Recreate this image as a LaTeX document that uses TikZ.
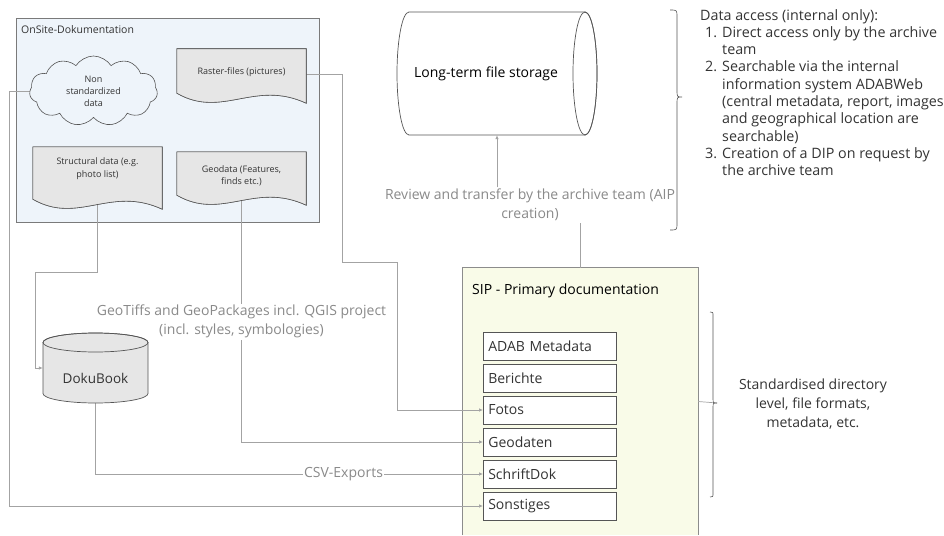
\documentclass[tikz,border=0pt]{standalone}
\usepackage{fontspec}
\setmainfont{Open Sans}
\usetikzlibrary{shapes.symbols,arrows.meta,calc}
\pgfdeclarelayer{bg}
\pgfdeclarelayer{conn}
\pgfsetlayers{bg,conn,main}
\definecolor{osfill}{HTML}{EEF4FA}
\definecolor{osline}{HTML}{7A7A7A}
\definecolor{docfill}{HTML}{E6E6E6}
\definecolor{shline}{HTML}{555555}
\definecolor{connc}{HTML}{A3A3A3}
\definecolor{lblc}{HTML}{8A8A8A}
\definecolor{sipfill}{HTML}{F9FBE8}
\definecolor{sipline}{HTML}{8C8C8C}
\definecolor{txt}{HTML}{333333}
\newcommand\docpath[1]{(#1.north west) -- (#1.north east) -- ($(#1.south east)+(0,4)$) .. controls ($(#1.south west)!0.6!(#1.south east)+(0,-20)$) and ($(#1.south west)!0.35!(#1.south east)+(0,20)$) .. ($(#1.south west)+(0,-6)$) -- cycle}
\newcommand\itm[1]{\hspace*{5pt}\makebox[17pt][l]{#1}}
\newcommand\cnt{\hspace*{22pt}}
\begin{document}
\begin{tikzpicture}[x=1pt,y=-1pt,
  onsite/.style={fill=osfill,draw=osline,line width=0.6pt,minimum width=303,minimum height=204,inner sep=0},
  sipbox/.style={fill=sipfill,minimum width=235,minimum height=267,inner sep=0},
  sipedge/.style={draw=sipline,line width=0.7pt},
  smalltitle/.style={font=\fontsize{10.5}{12}\selectfont,text=txt,inner sep=0},
  cloudn/.style={cloud,cloud puffs=11,cloud puff arc=115,aspect=1.8,cloud ignores aspect,fill=osfill,draw=shline,line width=0.6pt,minimum width=128,minimum height=70,inner sep=0,align=center,font=\fontsize{9}{12}\selectfont,text=txt},
  docn/.style={minimum width=129,inner sep=0,align=center,font=\fontsize{9}{12.5}\selectfont,text=txt},
  docsty/.style={fill=docfill,draw=shline,line width=0.6pt},
  arr/.style={draw=connc,line width=0.7pt,-{Latex[length=4pt,width=3.5pt]}},
  ln/.style={draw=connc,line width=0.7pt},
  lbl/.style={fill=white,text=lblc,align=center,inner sep=1.5pt,font=\fontsize{14}{19}\selectfont},
  dirbox/.style={draw=shline,fill=white,line width=0.6pt,anchor=west,minimum height=28,text width=123,inner xsep=5,align=left,font=\fontsize{14}{16}\selectfont,text=txt},
  cylsty/.style={draw=shline,line width=0.7pt},
  bigtext/.style={font=\fontsize{14}{16}\selectfont,text=black},
  brace/.style={draw=shline,line width=0.6pt},
  acctext/.style={font=\fontsize{14.3}{17.3}\selectfont,align=left,inner sep=0,text=txt},
  stdtext/.style={font=\fontsize{14}{19}\selectfont,align=center,text=txt}]
\useasboundingbox (0,0) rectangle (944,535);

\begin{pgfonlayer}{bg}
  \node[onsite] (os) at (167.5,120) {};
  \node[sipbox] (sip) at (580.5,401.5) {};
  \draw[sipedge] (sip.south west) -- (sip.north west) -- (sip.north east) -- (sip.south east);
\end{pgfonlayer}

% OnSite contents
\node[smalltitle,anchor=north west] (ost) at (21,25) {OnSite-Dokumentation};
\node[cloudn] (cl) at (93.5,91) {Non\\standardized\\data};
\node[docn,minimum height=50] (ras) at (241.5,74) {};
\node[docn,minimum height=58] (str) at (97.5,176) {};
\node[docn,minimum height=49] (geo) at (241.5,176.5) {};
\foreach \n in {ras,str,geo}{
  \draw[docsty,shift={(-4,-4)}] \docpath{\n};
  \draw[docsty] \docpath{\n};
}
\node[docn] (rast) at (241.5,72) {Raster-files (pictures)};
\node[docn] (strt) at (97.5,168.5) {Structural data (e.g.\\photo list)};
\node[docn] (geot) at (241.5,176) {Geodata (Features,\\finds etc.)};

% DokuBook
\node[minimum width=105,minimum height=70,inner sep=0] (dok) at (95.5,368) {};
\filldraw[cylsty,fill=docfill] (43,342.5) -- (43,393.5) arc[start angle=180,end angle=0,x radius=52.5,y radius=9.5] -- (148,342.5) arc[start angle=0,end angle=-180,x radius=52.5,y radius=9.5] -- cycle;
\draw[cylsty] (95.5,342.5) ellipse[x radius=52.5,y radius=9.5];
\node[bigtext,text=txt,font=\fontsize{13.5}{16}\selectfont] (dokt) at (95.5,378) {DokuBook};

% Long-term storage
\node[minimum width=200,minimum height=123,inner sep=0] (lts) at (497,73.5) {};
\filldraw[cylsty,fill=white] (585,12) -- (409,12) arc[start angle=270,end angle=90,x radius=12,y radius=61.5] -- (585,135) arc[start angle=90,end angle=-90,x radius=12,y radius=61.5] -- cycle;
\draw[cylsty] (585,73.5) ellipse[x radius=12,y radius=61.5];
\node[bigtext] (ltst) at (486,74) {Long-term file storage};

% SIP
\node[bigtext,anchor=west,inner sep=0] (sipt) at (472,291) {SIP - Primary documentation};
\node[dirbox] (adab) at (483,346) {ADAB Metadata};
\node[dirbox] (ber) at (483,378) {Berichte};
\node[dirbox] (fo) at (483,410) {Fotos};
\node[dirbox] (gd) at (483,442) {Geodaten};
\node[dirbox] (sd) at (483,474) {SchriftDok};
\node[dirbox] (so) at (483,506) {Sonstiges};

% braces and texts
\draw[brace] (670,10) .. controls (677,10) .. (677,17) -- (677,90) .. controls (677,97) .. (682,97) .. controls (677,97) .. (677,104) -- (677,223) .. controls (677,230) .. (670,230);
\coordinate (btip) at (717,403);
\draw[brace] (710,312) .. controls (713,312) .. (713,316) -- (713,398) .. controls (713,403) .. (btip) .. controls (713,403) .. (713,408) -- (713,493) .. controls (713,497) .. (710,497);
\node[acctext,anchor=north west] (acc) at (700,9) {Data access (internal only):\\
\itm{1.}Direct access only by the archive\\
\cnt team\\
\itm{2.}Searchable via the internal\\
\cnt information system ADABWeb\\
\cnt (central metadata, report, images\\
\cnt and geographical location are\\
\cnt searchable)\\
\itm{3.}Creation of a DIP on request by\\
\cnt the archive team};
\node[stdtext] (std) at (813,404) {Standardised directory\\level, file formats,\\metadata, etc.};

% connectors
\begin{pgfonlayer}{conn}
  \node[lbl] (rev) at (530,205) {Review and transfer by the archive team (AIP\\creation)};
  \draw[ln] (sip.north) -- (rev.south -| sip.north);
  \draw[arr] (rev.north -| lts.south) -- (lts.south);
  \draw[ln] (sip.east) -- (btip);
  \draw[arr] (cl.west) -- ++(-20,0) |- (so.west);
  \draw[arr] (str.south) |- ++(-62.5,67) |- (dok.west);
  \draw[arr] (dok.south) |- node[lbl,pos=0.82] {CSV-Exports} (sd.west);
  \draw[arr] (geo.south) |- node[lbl,pos=0.25] {GeoTiffs and GeoPackages incl. QGIS project\\(incl. styles, symbologies)} (gd.west);
  \draw[arr] (ras.east) -- ++(36.5,0) |- ++(55,188) |- (fo.west);
\end{pgfonlayer}
\end{tikzpicture}
\end{document}
